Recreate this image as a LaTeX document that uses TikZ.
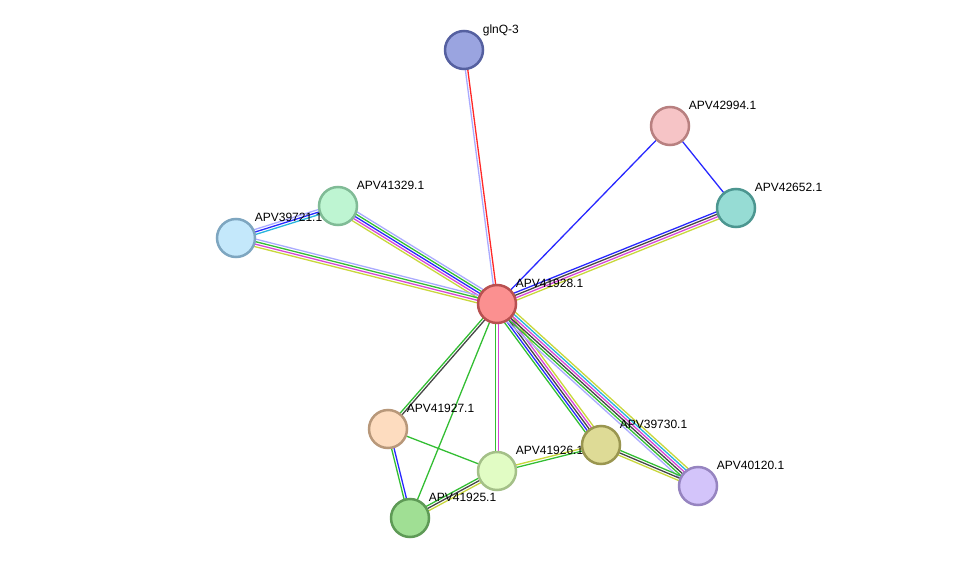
\documentclass[tikz,border=0pt]{standalone}
\usepackage{fontspec}
\setmainfont{Liberation Sans}
\usetikzlibrary{calc}

\definecolor{grn}{RGB}{51,190,51}
\definecolor{blu}{RGB}{40,40,255}
\definecolor{blk}{RGB}{70,70,70}
\definecolor{mag}{RGB}{215,70,215}
\definecolor{yel}{RGB}{200,215,60}
\definecolor{cya}{RGB}{40,180,220}
\definecolor{lav}{RGB}{170,170,255}
\definecolor{rd}{RGB}{255,40,40}

\pgfdeclarelayer{edges}
\pgfsetlayers{edges,main}

\tikzset{
  prot/.style={circle,minimum size=38pt,inner sep=0pt,line width=2.5pt},
  lbl/.style={anchor=base west,xshift=1pt,yshift=2pt,font=\fontsize{12}{14}\selectfont},
  ln/.style={line width=1.3pt}
}

% parallel lines between two nodes: colour/offset pairs
\newcommand{\edge}[3]{%
  \foreach \col/\off in {#3}
    \draw[ln,draw=\col] ($(#1)!\off pt!90:(#2)$) -- ($(#2)!\off pt!-90:(#1)$);}

\begin{document}
\begin{tikzpicture}[x=1pt,y=-1pt]
	\useasboundingbox (0,0) rectangle (976,564);
	\node [prot,fill={rgb,255:red,154;green,164;blue,224},draw={rgb,255:red,85;green,96;blue,160},label={[lbl,name=lglnQ]45:glnQ-3}] (nglnQ) at (464,50) {};
	\node [prot,fill={rgb,255:red,246;green,196;blue,198},draw={rgb,255:red,184;green,128;blue,128},label={[lbl,name=l42994]45:APV42994.1}] (n42994) at (670,126) {};
	\node [prot,fill={rgb,255:red,150;green,220;blue,212},draw={rgb,255:red,76;green,150;blue,144},label={[lbl,name=l42652]45:APV42652.1}] (n42652) at (736,208) {};
	\node [prot,fill={rgb,255:red,190;green,245;blue,210},draw={rgb,255:red,128;green,187;blue,150},label={[lbl,name=l41329]45:APV41329.1}] (n41329) at (338,206) {};
	\node [prot,fill={rgb,255:red,196;green,232;blue,251},draw={rgb,255:red,126;green,166;blue,192},label={[lbl,name=l39721]45:APV39721.1}] (n39721) at (236,238) {};
	\node [prot,fill={rgb,255:red,251;green,144;blue,144},draw={rgb,255:red,184;green,80;blue,80},label={[lbl,name=l41928]45:APV41928.1}] (n41928) at (497,304) {};
	\node [prot,fill={rgb,255:red,253;green,220;blue,191},draw={rgb,255:red,184;green,152;blue,122},label={[lbl,name=l41927]45:APV41927.1}] (n41927) at (388,429) {};
	\node [prot,fill={rgb,255:red,225;green,252;blue,196},draw={rgb,255:red,164;green,192;blue,136},label={[lbl,name=l41926]45:APV41926.1}] (n41926) at (497,471) {};
	\node [prot,fill={rgb,255:red,222;green,219;blue,150},draw={rgb,255:red,154;green,150;blue,80},label={[lbl,name=l39730]45:APV39730.1}] (n39730) at (601,445) {};
	\node [prot,fill={rgb,255:red,211;green,196;blue,250},draw={rgb,255:red,150;green,132;blue,192},label={[lbl,name=l40120]45:APV40120.1}] (n40120) at (698,486) {};
	\node [prot,fill={rgb,255:red,160;green,223;blue,148},draw={rgb,255:red,94;green,154;blue,86},label={[lbl,name=l41925]45:APV41925.1}] (n41925) at (410,518) {};

	\begin{pgfonlayer}{edges}
	\edge{n41928}{nglnQ}{lav/1.2,rd/-1.2}
	\edge{n41928}{n42994}{blu/0}
	\edge{n42994}{n42652}{blu/0}
	\edge{n41928}{n42652}{blu/3.75,blk/1.25,mag/-1.25,yel/-3.75}
	\edge{n41928}{n41329}{lav/-5,grn/-2.5,blu/0,mag/2.5,yel/5}
	\edge{n41928}{n39721}{lav/-3.75,grn/-1.25,mag/1.25,yel/3.75}
	\edge{n39721}{n41329}{lav/2.5,blu/0,cya/-2.5}
	\edge{n41928}{n41927}{grn/-1.25,blk/1.25}
	\edge{n41928}{n41925}{grn/0}
	\edge{n41928}{n41926}{grn/-1.25,mag/1.25}
	\edge{n41928}{n39730}{grn/-5,blu/-2.5,blk/0,mag/2.5,yel/5}
	\edge{n41928}{n40120}{lav/-6.25,grn/-3.75,blk/-1.25,mag/1.25,cya/3.75,yel/6.25}
	\edge{n41927}{n41926}{grn/0}
	\edge{n41927}{n41925}{grn/-1.25,blu/1.25}
	\edge{n41925}{n41926}{grn/2.5,blk/0,yel/-2.5}
	\edge{n41926}{n39730}{yel/1.25,grn/-1.25}
	\edge{n39730}{n40120}{grn/2.5,blk/0,yel/-2.5}
	\end{pgfonlayer}
\end{tikzpicture}
\end{document}
